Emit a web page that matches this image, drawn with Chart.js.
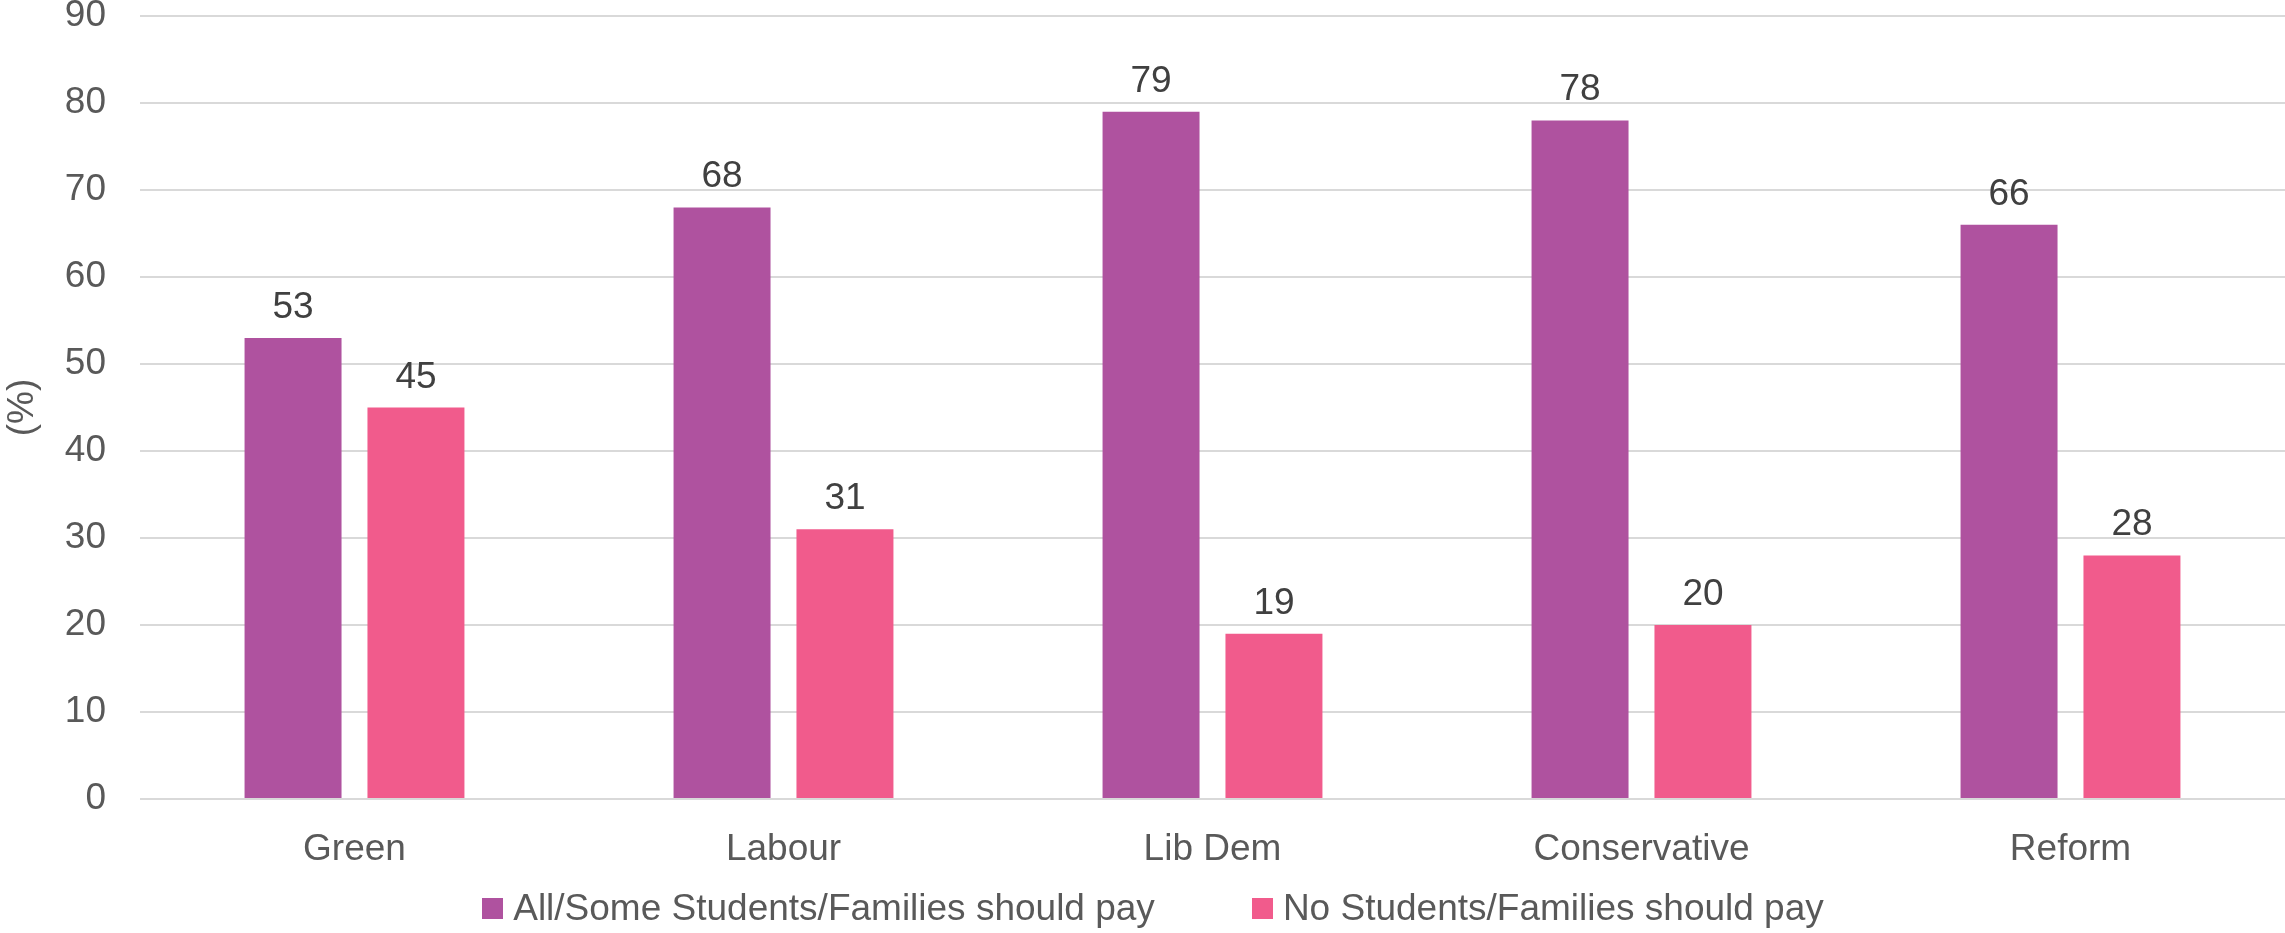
<!DOCTYPE html>
<html>
<head>
<meta charset="utf-8">
<script src="https://cdn.jsdelivr.net/npm/chart.js@4"></script>
<style>
  body { margin: 0; background: #fff; }
  .wrap { position: relative; width: 2285px; height: 933px; }
  .legend {
    position: absolute; left: 21px; right: 0; top: 887px;
    display: flex; justify-content: center; gap: 97px;
    font: 37px 'Liberation Sans', Arial, sans-serif; color: #595959;
  }
  .legend-item { display: flex; align-items: center; }
  .legend-box { width: 21px; height: 21px; margin-right: 10px; }
</style>
</head>
<body>
<div class="wrap">
  <canvas id="chart" width="2285" height="933"></canvas>
  <div class="legend" id="legend"></div>
</div>
<script>
const categories = ['Green', 'Labour', 'Lib Dem', 'Conservative', 'Reform']
const shouldPay = [53, 68, 79, 78, 66]
const noPay = [45, 31, 19, 20, 28]
const seriesLabels = ['All/Some Students/Families should pay', 'No Students/Families should pay']
const seriesColors = ['#AF529F', '#F15B8C']
const yMin = 0
const yMax = 90
const yStep = 10

const fontFamily = "'Liberation Sans', Arial, sans-serif"

// value labels above each bar
const barValueLabels = {
  id: 'barValueLabels',
  afterDatasetsDraw(chart) {
    const ctx = chart.ctx
    ctx.save()
    ctx.font = `37px ${fontFamily}`
    ctx.fillStyle = '#404040'
    ctx.textAlign = 'center'
    ctx.textBaseline = 'alphabetic'
    chart.data.datasets.forEach((ds, i) => {
      chart.getDatasetMeta(i).data.forEach((bar, j) => {
        ctx.fillText(ds.data[j], bar.x, bar.y - 20)
      })
    })
    ctx.restore()
  }
}

const ctx = document.getElementById('chart').getContext('2d')
const chart = new Chart(ctx, {
  type: 'bar',
  data: {
    labels: categories,
    datasets: [
      { label: seriesLabels[0], data: shouldPay, backgroundColor: seriesColors[0] },
      { label: seriesLabels[1], data: noPay, backgroundColor: seriesColors[1] }
    ]
  },
  options: {
    responsive: false,
    devicePixelRatio: 1,
    animation: false,
    categoryPercentage: 0.573,
    barPercentage: 0.789,
    layout: { padding: { top: 16, right: 0, bottom: 64, left: 0 } },
    plugins: {
      legend: { display: false },
      tooltip: { enabled: false }
    },
    scales: {
      x: {
        grid: { display: false },
        border: { display: false },
        ticks: {
          color: '#595959',
          font: { family: fontFamily, size: 37 },
          padding: 21
        },
        afterFit(scale) { scale.height = 70 }
      },
      y: {
        min: yMin,
        max: yMax,
        grid: { color: '#d9d9d9', lineWidth: 2, drawTicks: false },
        border: { display: false },
        ticks: {
          stepSize: yStep,
          color: '#595959',
          font: { family: fontFamily, size: 37 },
          padding: 34
        },
        title: {
          display: true,
          text: '(%)',
          color: '#595959',
          font: { family: fontFamily, size: 37 },
          padding: { top: 1, bottom: 0 }
        },
        afterFit(scale) {
          scale.width = 140
          // let the top label hang over the padding instead of pushing the plot down
          scale.paddingTop = 0
          scale.paddingBottom = 0
        }
      }
    }
  },
  plugins: [barValueLabels]
})

// legend built from the chart's datasets
const legendEl = document.getElementById('legend')
chart.data.datasets.forEach(ds => {
  const item = document.createElement('div')
  item.className = 'legend-item'
  const box = document.createElement('span')
  box.className = 'legend-box'
  box.style.background = ds.backgroundColor
  const text = document.createElement('span')
  text.textContent = ds.label
  item.appendChild(box)
  item.appendChild(text)
  legendEl.appendChild(item)
})
</script>
</body>
</html>
